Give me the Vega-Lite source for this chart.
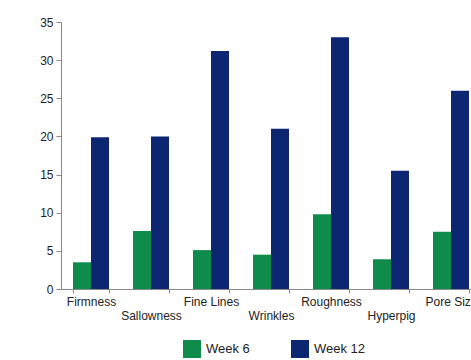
{
  "$schema": "https://vega.github.io/schema/vega-lite/v6.json",
  "width": 420,
  "height": 267,
  "autosize": {"type": "none"},
  "padding": {"left": 61, "top": 22, "right": 0, "bottom": 71},
  "background": "white",
  "data": {
    "values": [
      {"attr": "Firmness", "week": "Week 6", "value": 3.5},
      {"attr": "Firmness", "week": "Week 12", "value": 19.9},
      {"attr": "Sallowness", "week": "Week 6", "value": 7.6},
      {"attr": "Sallowness", "week": "Week 12", "value": 20.0},
      {"attr": "Fine Lines", "week": "Week 6", "value": 5.1},
      {"attr": "Fine Lines", "week": "Week 12", "value": 31.2},
      {"attr": "Wrinkles", "week": "Week 6", "value": 4.5},
      {"attr": "Wrinkles", "week": "Week 12", "value": 21.0},
      {"attr": "Roughness", "week": "Week 6", "value": 9.8},
      {"attr": "Roughness", "week": "Week 12", "value": 33.0},
      {"attr": "Hyperpig", "week": "Week 6", "value": 3.9},
      {"attr": "Hyperpig", "week": "Week 12", "value": 15.5},
      {"attr": "Pore Size", "week": "Week 6", "value": 7.5},
      {"attr": "Pore Size", "week": "Week 12", "value": 26.0}
    ]
  },
  "config": {
    "view": {"stroke": null},
    "font": "Liberation Sans",
    "axis": {
      "domainColor": "#888888",
      "tickColor": "#888888",
      "labelColor": "#222222",
      "labelFont": "Liberation Sans",
      "labelFontSize": 12,
      "grid": false,
      "title": null
    }
  },
  "mark": {"type": "bar"},
  "encoding": {
    "x": {
      "field": "attr",
      "type": "nominal",
      "sort": ["Firmness", "Sallowness", "Fine Lines", "Wrinkles", "Roughness", "Hyperpig", "Pore Size"],
      "scale": {"paddingInner": 0.4, "paddingOuter": 0.2},
      "axis": {
        "labelAngle": 0,
        "tickBand": "extent",
        "tickSize": 4,
        "labelPadding": 3,
        "labelLineHeight": 14,
        "labelExpr": "indexof(['Sallowness','Wrinkles','Hyperpig'], datum.value) >= 0 ? ['', datum.value] : datum.value"
      }
    },
    "xOffset": {
      "field": "week",
      "type": "nominal",
      "sort": ["Week 6", "Week 12"],
      "scale": {"paddingInner": 0}
    },
    "y": {
      "field": "value",
      "type": "quantitative",
      "scale": {"domain": [0, 35]},
      "axis": {"values": [0, 5, 10, 15, 20, 25, 30, 35], "tickSize": 5, "labelPadding": 3}
    },
    "color": {
      "field": "week",
      "type": "nominal",
      "sort": ["Week 6", "Week 12"],
      "scale": {"domain": ["Week 6", "Week 12"], "range": ["#0f8b4c", "#0c2672"]},
      "legend": {
        "title": null,
        "orient": "none",
        "legendX": 122,
        "legendY": 318,
        "direction": "horizontal",
        "columns": 2,
        "columnPadding": 41,
        "symbolType": "square",
        "symbolSize": 324,
        "symbolStrokeWidth": 0,
        "labelFontSize": 13,
        "labelColor": "#222222",
        "labelOffset": 5
      }
    }
  }
}
